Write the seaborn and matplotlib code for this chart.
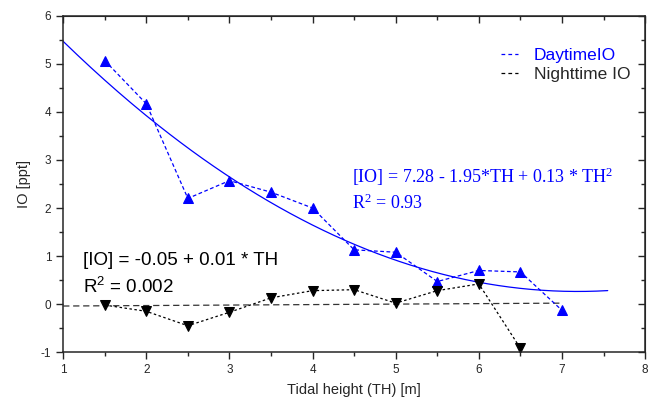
import numpy as np
import pandas as pd
import matplotlib
matplotlib.use("Agg")
import matplotlib.pyplot as plt
import seaborn as sns
from matplotlib.ticker import MultipleLocator
from matplotlib.lines import Line2D

# Data
tidal_day = [1.5, 2.0, 2.5, 3.0, 3.5, 4.0, 4.5, 5.0, 5.5, 6.0, 6.5, 7.0]
io_day = [5.07, 4.17, 2.20, 2.57, 2.33, 2.00, 1.13, 1.08, 0.47, 0.70, 0.67, -0.13]

tidal_night = [1.5, 2.0, 2.5, 3.0, 3.5, 4.0, 4.5, 5.0, 5.5, 6.0, 6.5]
io_night = [-0.02, -0.15, -0.45, -0.17, 0.13, 0.28, 0.30, 0.02, 0.28, 0.42, -0.92]

# fit coefficients (unrounded, as drawn; the labels show them rounded)
day_fit = [7.289, -1.955, 0.136]   # a + b*TH + c*TH^2
night_fit = [-0.05, 0.01]          # a + b*TH
day_fit_range = [1.0, 7.55]
night_fit_range = [1.0, 7.0]

sns.set_style("ticks")
plt.rcParams["font.family"] = ["Liberation Sans", "DejaVu Sans"]
plt.rcParams["mathtext.default"] = "regular"
plt.rcParams["axes.unicode_minus"] = False

fig, ax = plt.subplots(figsize=(6.51, 3.97), dpi=100)
fig.subplots_adjust(left=0.097, right=0.991, top=0.96, bottom=0.113)

# fitted curves
xq = np.linspace(day_fit_range[0], day_fit_range[1], 200)
yq = day_fit[0] + day_fit[1] * xq + day_fit[2] * xq ** 2
ax.plot(xq, yq, color="#0000ff", lw=0.9)

xl = np.array(night_fit_range)
yl = night_fit[0] + night_fit[1] * xl
ax.plot(xl, yl, color="#333333", lw=0.9, ls=(0, (5, 3)))

df_day = pd.DataFrame({"TH": tidal_day, "IO": io_day})
df_night = pd.DataFrame({"TH": tidal_night, "IO": io_night})

sns.lineplot(data=df_day, x="TH", y="IO", ax=ax, color="#0000ff", lw=0.9,
             marker="^", markersize=7, markeredgecolor="#0000ff",
             linestyle=(0, (3, 2)))
sns.lineplot(data=df_night, x="TH", y="IO", ax=ax, color="black", lw=0.9,
             marker="v", markersize=7, markeredgecolor="black",
             linestyle=(0, (2, 2)))

ax.set_xlim(1, 8)
ax.set_ylim(-1, 6)
ax.xaxis.set_major_locator(MultipleLocator(1))
ax.xaxis.set_minor_locator(MultipleLocator(0.5))
ax.yaxis.set_major_locator(MultipleLocator(1))
ax.yaxis.set_minor_locator(MultipleLocator(0.5))
ax.tick_params(which="both", direction="out", labelsize=8.5, width=1)
ax.tick_params(which="major", length=5)
ax.tick_params(which="minor", length=3)
for s in ax.spines.values():
    s.set_linewidth(1.1)

# mirrored ticks on top and right, pointing in
top = ax.secondary_xaxis("top")
top.xaxis.set_major_locator(MultipleLocator(1))
top.xaxis.set_minor_locator(MultipleLocator(0.5))
top.tick_params(which="both", direction="in", labeltop=False, width=1)
top.tick_params(which="major", length=5)
top.tick_params(which="minor", length=3)
right = ax.secondary_yaxis("right")
right.yaxis.set_major_locator(MultipleLocator(1))
right.yaxis.set_minor_locator(MultipleLocator(0.5))
right.tick_params(which="both", direction="in", labelright=False, width=1)
right.tick_params(which="major", length=5)
right.tick_params(which="minor", length=3)

ax.set_xlabel("Tidal height (TH) [m]", fontsize=10.5, labelpad=5)
ax.set_ylabel("IO [ppt]", fontsize=10.5, labelpad=7)

# equations
ax.text(4.47, 2.66, "[IO] = 7.28 - 1.95*TH + 0.13 * TH$^2$", color="#0000ff",
        fontsize=13, family="Liberation Serif", va="center")
ax.text(4.47, 2.1, "R$^2$ = 0.93", color="#0000ff",
        fontsize=13, family="Liberation Serif", va="center")
ax.text(1.24, 0.9, "[IO] = -0.05 + 0.01 * TH", color="black",
        fontsize=13.5, va="center")
ax.text(1.24, 0.36, "R$^2$ = 0.002", color="black",
        fontsize=13.5, va="center")

handles = [Line2D([], [], color="#0000ff", lw=0.9, ls=(0, (3, 2.5))),
           Line2D([], [], color="black", lw=0.9, ls=(0, (3, 2.5)))]
leg = ax.legend(handles, ["DaytimeIO", "Nighttime IO"], loc="upper left",
                bbox_to_anchor=(0.725, 0.95), frameon=False, fontsize=12.5,
                handlelength=1.0, handletextpad=0.9, labelspacing=0.22)
leg.get_texts()[0].set_color("#0000ff")

fig.savefig("out.png", dpi=100)
